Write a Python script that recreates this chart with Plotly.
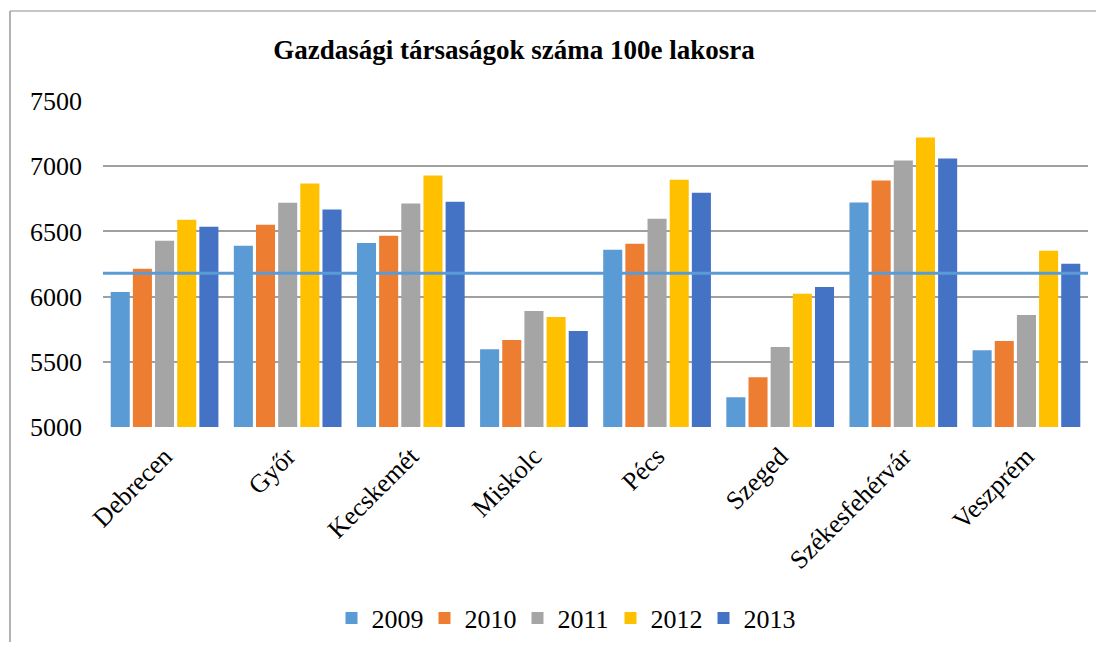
import plotly.graph_objects as go

# cities (categories) and yearly values
cities = ['Debrecen', 'Győr', 'Kecskemét', 'Miskolc', 'Pécs', 'Szeged', 'Székesfehérvár', 'Veszprém']
years = ['2009', '2010', '2011', '2012', '2013']

v2009 = [6036, 6390, 6411, 5597, 6359, 5228, 6721, 5589]
v2010 = [6213, 6551, 6467, 5667, 6405, 5382, 6890, 5659]
v2011 = [6428, 6720, 6713, 5890, 6597, 5613, 7044, 5859]
v2012 = [6590, 6867, 6928, 5844, 6897, 6021, 7221, 6351]
v2013 = [6536, 6667, 6728, 5736, 6797, 6074, 7059, 6251]

avg_line = 6180

y_ticks = [5000, 5500, 6000, 6500, 7000, 7500]

# office palette
colors = ['#5B9BD5', '#ED7D31', '#A5A5A5', '#FFC000', '#4472C4']

font = 'Liberation Serif'

# page body has an 8px margin, so the figure is a bit smaller and shifted
off = 8
W, H = 1104 - 2 * off, 650 - 2 * off
ml, mt = 103 - off, 101 - off
mr = W - (1088 - off)
mb = H - (427 - off)

fig = go.Figure()
for yr, vals, col in zip(years, [v2009, v2010, v2011, v2012, v2013], colors):
    fig.add_trace(go.Bar(x=cities, y=vals, name=yr, marker=dict(color=col, line=dict(width=0))))

fig.add_hline(y=avg_line, line=dict(color='#5B9BD5', width=3), layer='above')

# chart border (only top and left edges are visible in the crop)
pw, ph = W - ml - mr, H - mt - mb
bx = (10 - off - ml) / pw
by_top = (H - mb - (11 - off)) / ph
by_bot = -mb / ph
fig.add_shape(type='line', xref='paper', yref='paper', x0=bx, x1=(W - ml) / pw, y0=by_top, y1=by_top,
              line=dict(color='#b3b3b3', width=1.5))
fig.add_shape(type='line', xref='paper', yref='paper', x0=bx, x1=bx, y0=by_top, y1=by_bot,
              line=dict(color='#9a9a9a', width=1.5))

fig.update_layout(
    width=W, height=H,
    margin=dict(l=ml, r=mr, t=mt, b=mb),
    paper_bgcolor='white', plot_bgcolor='white',
    font=dict(family=font, size=26, color='black'),
    title=dict(text='<b>Gazdasági társaságok száma 100e lakosra</b>', x=(514 - off) / W, xanchor='center',
               y=1 - (50 - off) / H, yanchor='middle', font=dict(family=font, size=27, color='black')),
    barmode='group', bargap=0.1, bargroupgap=0.14,
    showlegend=True,
    legend=dict(orientation='h', x=(564 - off) / W, xref='container', xanchor='center',
                y=1 - (618 - off) / H, yref='container', yanchor='middle',
                font=dict(family=font, size=26), entrywidth=48, traceorder='normal'),
)

fig.update_yaxes(range=[5000, 7500], tickvals=y_ticks, showgrid=True, gridcolor='#a0a0a0', gridwidth=1.5,
                 zeroline=False, showline=False, ticks='', ticklabelstandoff=20,
                 tickfont=dict(family=font, size=26))
fig.update_xaxes(tickangle=-45, showgrid=False, showline=False, ticks='',
                 tickfont=dict(family=font, size=26), ticklabelstandoff=8)

fig.write_html('out.html')
